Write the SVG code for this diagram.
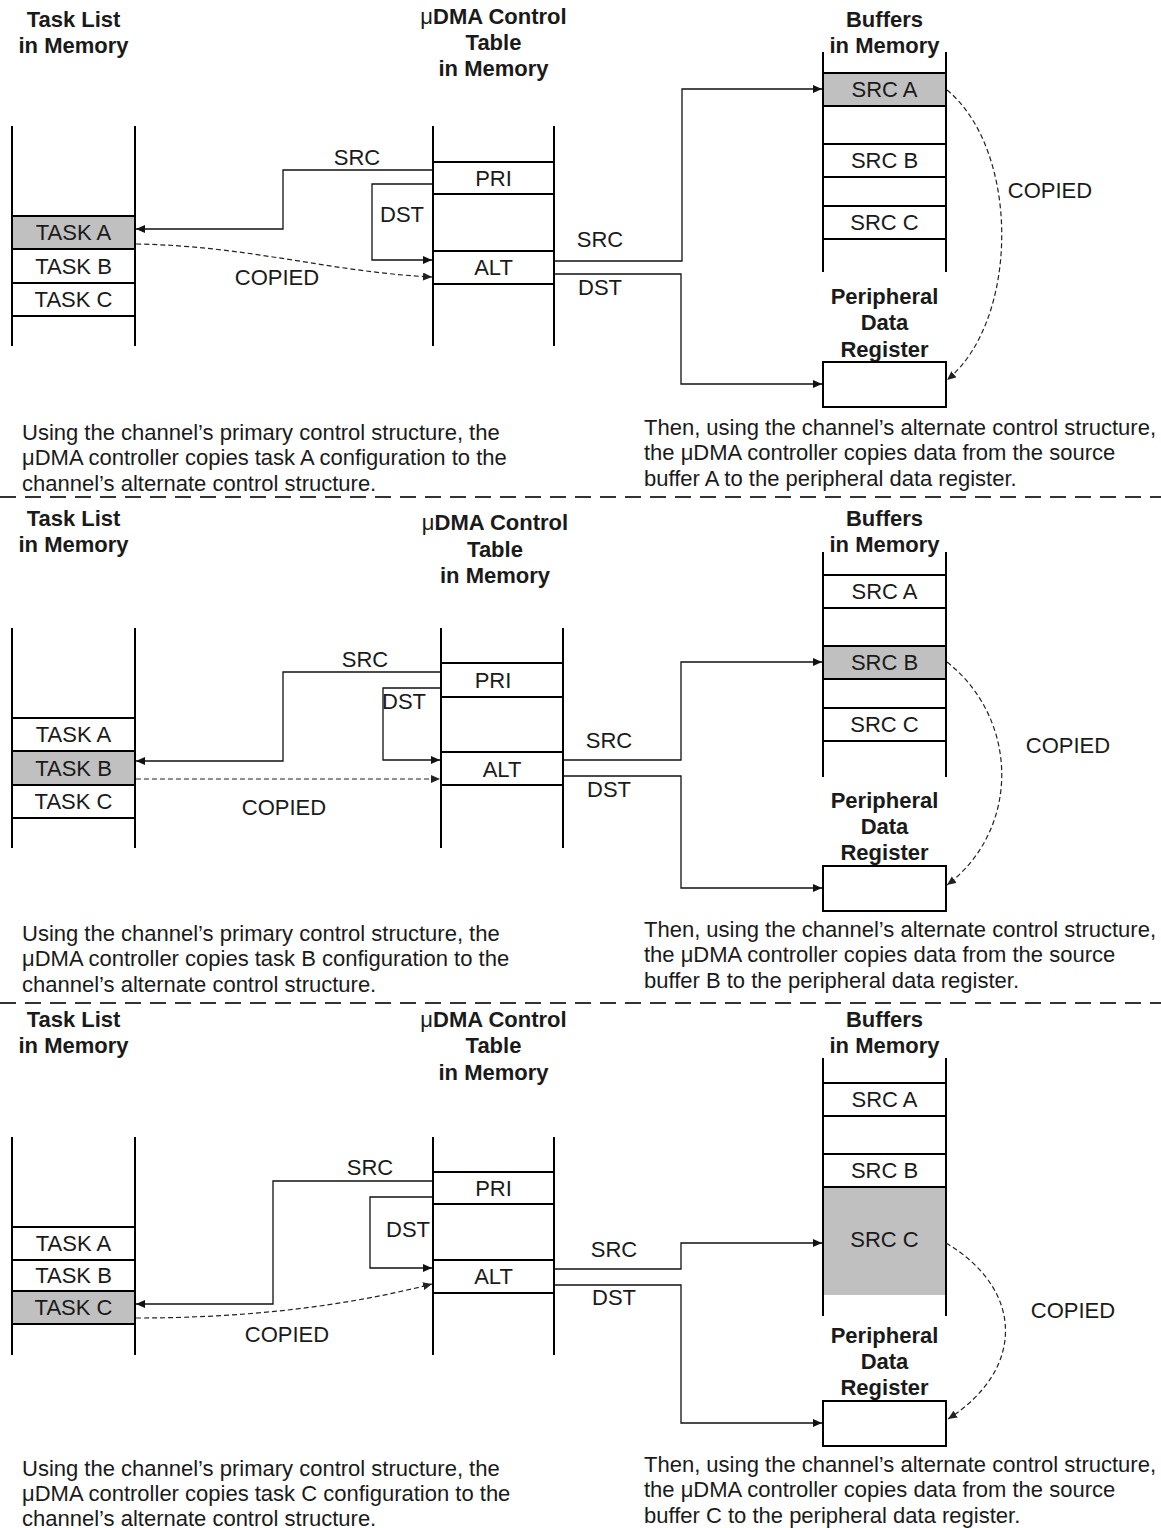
<svg xmlns="http://www.w3.org/2000/svg" width="1161" height="1528" viewBox="0 0 1161 1528">
<defs>
<marker id="arr" markerUnits="userSpaceOnUse" markerWidth="10" markerHeight="9" refX="9" refY="4" orient="auto"><path d="M0,0 L9,4 L0,8 z" fill="#111"/></marker>
<marker id="arrs" markerUnits="userSpaceOnUse" markerWidth="10" markerHeight="9" refX="9" refY="4" orient="auto"><path d="M0,0 L9,4 L0,8 z" fill="#222"/></marker>
</defs>
<style>
text{font-family:"Liberation Sans",Arial,sans-serif;fill:#1a1a1a}
.h{font-size:22px;font-weight:bold;text-anchor:middle}
.h tspan{font-weight:normal}
.l{font-size:22px;text-anchor:middle}
.d{font-size:22px}
.col{stroke:#000;stroke-width:2;fill:none}
.box{stroke:#000;stroke-width:2;fill:#fff}
.g{fill:#c0c0c0}
.c{stroke:#111;stroke-width:1.3;fill:none;marker-end:url(#arr)}
.cd{stroke:#222;stroke-width:1.2;fill:none;stroke-dasharray:5 3;marker-end:url(#arrs)}
.sep{stroke:#333;stroke-width:2;stroke-dasharray:16 9}
</style>
<rect width="1161" height="1528" fill="#fff"/>

<!-- ========== PANEL 1 ========== -->
<g id="p1-tasklist">
<text class="h" x="73.5" y="27">Task List</text>
<text class="h" x="73.5" y="53">in Memory</text>
<rect class="box g" x="12" y="216" width="123" height="33"/>
<rect class="box" x="12" y="249" width="123" height="34"/>
<rect class="box" x="12" y="283" width="123" height="33"/>
<line class="col" x1="12" y1="126" x2="12" y2="346"/>
<line class="col" x1="135" y1="126" x2="135" y2="346"/>
<text class="l" x="73.5" y="240">TASK A</text>
<text class="l" x="73.5" y="274">TASK B</text>
<text class="l" x="73.5" y="307">TASK C</text>
</g>
<g id="p1-control">
<text class="h" x="493.5" y="24"><tspan>μ</tspan>DMA Control</text>
<text class="h" x="493.5" y="50">Table</text>
<text class="h" x="493.5" y="76">in Memory</text>
<rect class="box" x="433" y="162" width="121" height="32"/>
<rect class="box" x="433" y="251" width="121" height="33"/>
<line class="col" x1="433" y1="126" x2="433" y2="346"/>
<line class="col" x1="554" y1="126" x2="554" y2="346"/>
<text class="l" x="493.5" y="186">PRI</text>
<text class="l" x="493.5" y="275">ALT</text>
</g>
<g id="p1-buffers">
<text class="h" x="884.5" y="27">Buffers</text>
<text class="h" x="884.5" y="53">in Memory</text>
<rect class="box g" x="823" y="73" width="123" height="33"/>
<rect class="box" x="823" y="144" width="123" height="33"/>
<rect class="box" x="823" y="206" width="123" height="33"/>
<line class="col" x1="823" y1="52" x2="823" y2="272"/>
<line class="col" x1="946" y1="52" x2="946" y2="272"/>
<text class="l" x="884.5" y="97">SRC A</text>
<text class="l" x="884.5" y="168">SRC B</text>
<text class="l" x="884.5" y="230">SRC C</text>
</g>
<g id="p1-peripheral">
<text class="h" x="884.5" y="304">Peripheral</text>
<text class="h" x="884.5" y="330">Data</text>
<text class="h" x="884.5" y="357">Register</text>
<rect class="box" x="823" y="362" width="123" height="45"/>
</g>
<g id="p1-connectors">
<path class="c" d="M433,170 H283 V229 H136"/>
<path class="c" d="M433,184 H372 V260 H432"/>
<path class="cd" d="M136,244 C250,246 330,272 432,277"/>
<path class="c" d="M554,261 H682 V89 H822"/>
<path class="c" d="M554,274 H681 V384 H822"/>
<path class="cd" d="M947,90 C1020,150 1020,320 947,380"/>
<text class="l" x="357" y="165">SRC</text>
<text class="l" x="402" y="222">DST</text>
<text class="l" x="277" y="285">COPIED</text>
<text class="l" x="600" y="247">SRC</text>
<text class="l" x="600" y="295">DST</text>
<text class="l" x="1050" y="198">COPIED</text>
</g>
<g id="p1-text">
<text class="d" x="22" y="440">Using the channel’s primary control structure, the</text>
<text class="d" x="22" y="465">μDMA controller copies task A configuration to the</text>
<text class="d" x="22" y="491">channel’s alternate control structure.</text>
<text class="d" x="644" y="435">Then, using the channel’s alternate control structure,</text>
<text class="d" x="644" y="460">the μDMA controller copies data from the source</text>
<text class="d" x="644" y="486">buffer A to the peripheral data register.</text>
</g>
<line class="sep" x1="0" y1="497" x2="1161" y2="497"/>

<!-- ========== PANEL 2 ========== -->
<g id="p2-tasklist">
<text class="h" x="73.5" y="526">Task List</text>
<text class="h" x="73.5" y="552">in Memory</text>
<rect class="box" x="12" y="718" width="123" height="33"/>
<rect class="box g" x="12" y="751" width="123" height="34"/>
<rect class="box" x="12" y="785" width="123" height="33"/>
<line class="col" x1="12" y1="628" x2="12" y2="848"/>
<line class="col" x1="135" y1="628" x2="135" y2="848"/>
<text class="l" x="73.5" y="742">TASK A</text>
<text class="l" x="73.5" y="776">TASK B</text>
<text class="l" x="73.5" y="809">TASK C</text>
</g>
<g id="p2-control">
<text class="h" x="495" y="530"><tspan>μ</tspan>DMA Control</text>
<text class="h" x="495" y="557">Table</text>
<text class="h" x="495" y="583">in Memory</text>
<rect class="box" x="441" y="663" width="122" height="34"/>
<rect class="box" x="441" y="752" width="122" height="33"/>
<line class="col" x1="441" y1="628" x2="441" y2="848"/>
<line class="col" x1="563" y1="628" x2="563" y2="848"/>
<text class="l" x="493" y="688">PRI</text>
<text class="l" x="502" y="777">ALT</text>
</g>
<g id="p2-buffers">
<text class="h" x="884.5" y="526">Buffers</text>
<text class="h" x="884.5" y="552">in Memory</text>
<rect class="box" x="823" y="575" width="123" height="33"/>
<rect class="box g" x="823" y="646" width="123" height="33"/>
<rect class="box" x="823" y="708" width="123" height="33"/>
<line class="col" x1="823" y1="552" x2="823" y2="777"/>
<line class="col" x1="946" y1="552" x2="946" y2="777"/>
<text class="l" x="884.5" y="599">SRC A</text>
<text class="l" x="884.5" y="670">SRC B</text>
<text class="l" x="884.5" y="732">SRC C</text>
</g>
<g id="p2-peripheral">
<text class="h" x="884.5" y="808">Peripheral</text>
<text class="h" x="884.5" y="834">Data</text>
<text class="h" x="884.5" y="860">Register</text>
<rect class="box" x="823" y="866" width="123" height="45"/>
</g>
<g id="p2-connectors">
<path class="c" d="M441,672 H283 V761 H136"/>
<path class="c" d="M441,688 H383 V760 H440"/>
<path class="cd" d="M136,779 H440"/>
<path class="c" d="M563,760 H681 V662 H822"/>
<path class="c" d="M563,776 H681 V888 H822"/>
<path class="cd" d="M947,662 C1020,720 1020,830 947,885"/>
<text class="l" x="365" y="667">SRC</text>
<text class="d" x="382" y="709">DST</text>
<text class="l" x="284" y="815">COPIED</text>
<text class="l" x="609" y="748">SRC</text>
<text class="l" x="609" y="797">DST</text>
<text class="l" x="1068" y="753">COPIED</text>
</g>
<g id="p2-text">
<text class="d" x="22" y="941">Using the channel’s primary control structure, the</text>
<text class="d" x="22" y="966">μDMA controller copies task B configuration to the</text>
<text class="d" x="22" y="992">channel’s alternate control structure.</text>
<text class="d" x="644" y="937">Then, using the channel’s alternate control structure,</text>
<text class="d" x="644" y="962">the μDMA controller copies data from the source</text>
<text class="d" x="644" y="988">buffer B to the peripheral data register.</text>
</g>
<line class="sep" x1="0" y1="1003" x2="1161" y2="1003"/>

<!-- ========== PANEL 3 ========== -->
<g id="p3-tasklist">
<text class="h" x="73.5" y="1027">Task List</text>
<text class="h" x="73.5" y="1053">in Memory</text>
<rect class="box" x="12" y="1227" width="123" height="33"/>
<rect class="box" x="12" y="1260" width="123" height="31"/>
<rect class="box g" x="12" y="1291" width="123" height="33"/>
<line class="col" x1="12" y1="1137" x2="12" y2="1355"/>
<line class="col" x1="135" y1="1137" x2="135" y2="1355"/>
<text class="l" x="73.5" y="1251">TASK A</text>
<text class="l" x="73.5" y="1283">TASK B</text>
<text class="l" x="73.5" y="1315">TASK C</text>
</g>
<g id="p3-control">
<text class="h" x="493.5" y="1027"><tspan>μ</tspan>DMA Control</text>
<text class="h" x="493.5" y="1053">Table</text>
<text class="h" x="493.5" y="1080">in Memory</text>
<rect class="box" x="433" y="1172" width="121" height="32"/>
<rect class="box" x="433" y="1260" width="121" height="33"/>
<line class="col" x1="433" y1="1137" x2="433" y2="1355"/>
<line class="col" x1="554" y1="1137" x2="554" y2="1355"/>
<text class="l" x="493.5" y="1196">PRI</text>
<text class="l" x="493.5" y="1284">ALT</text>
</g>
<g id="p3-buffers">
<text class="h" x="884.5" y="1027">Buffers</text>
<text class="h" x="884.5" y="1053">in Memory</text>
<rect class="g" x="823" y="1187" width="123" height="108"/>
<rect class="box" x="823" y="1083" width="123" height="33"/>
<rect class="box" x="823" y="1154" width="123" height="33"/>
<line class="col" x1="823" y1="1058" x2="823" y2="1316"/>
<line class="col" x1="946" y1="1058" x2="946" y2="1316"/>
<text class="l" x="884.5" y="1107">SRC A</text>
<text class="l" x="884.5" y="1178">SRC B</text>
<text class="l" x="884.5" y="1247">SRC C</text>
</g>
<g id="p3-peripheral">
<text class="h" x="884.5" y="1343">Peripheral</text>
<text class="h" x="884.5" y="1369">Data</text>
<text class="h" x="884.5" y="1395">Register</text>
<rect class="box" x="823" y="1401" width="123" height="45"/>
</g>
<g id="p3-connectors">
<path class="c" d="M433,1181 H273 V1304 H136"/>
<path class="c" d="M433,1197 H370 V1268 H432"/>
<path class="cd" d="M136,1318 Q300,1318 432,1284"/>
<path class="c" d="M554,1269 H681 V1243 H822"/>
<path class="c" d="M554,1285 H681 V1423 H822"/>
<path class="cd" d="M946,1243 C1025,1290 1025,1370 948,1419"/>
<text class="l" x="370" y="1175">SRC</text>
<text class="l" x="408" y="1237">DST</text>
<text class="l" x="287" y="1342">COPIED</text>
<text class="l" x="614" y="1257">SRC</text>
<text class="l" x="614" y="1305">DST</text>
<text class="l" x="1073" y="1318">COPIED</text>
</g>
<g id="p3-text">
<text class="d" x="22" y="1476">Using the channel’s primary control structure, the</text>
<text class="d" x="22" y="1501">μDMA controller copies task C configuration to the</text>
<text class="d" x="22" y="1526">channel’s alternate control structure.</text>
<text class="d" x="644" y="1472">Then, using the channel’s alternate control structure,</text>
<text class="d" x="644" y="1497">the μDMA controller copies data from the source</text>
<text class="d" x="644" y="1523">buffer C to the peripheral data register.</text>
</g>
</svg>
